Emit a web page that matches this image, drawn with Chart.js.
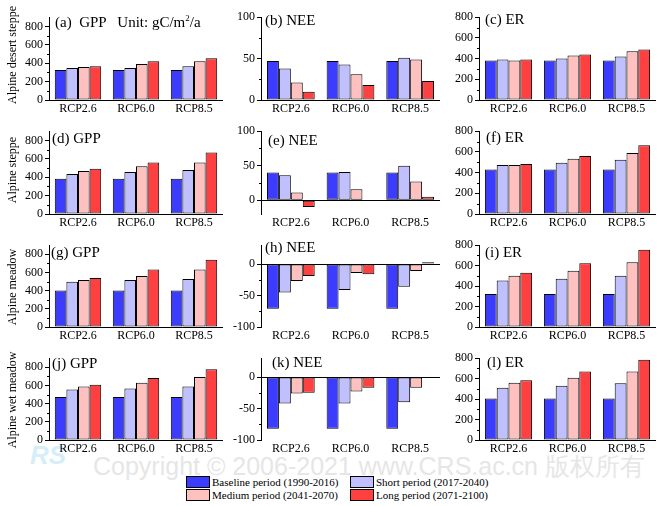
<!DOCTYPE html>
<html>
<head>
<meta charset="utf-8">
<script src="https://cdn.jsdelivr.net/npm/chart.js@4.4.0/dist/chart.umd.min.js"></script>
<style>
  body { margin: 0; background: #fff; width: 662px; height: 506px; overflow: hidden; position: relative; font-family: 'Liberation Serif', 'Times New Roman', serif; }
  canvas { position: absolute; }
  .txt { position: absolute; white-space: nowrap; color: #000; }
  .title { font-size: 15px; line-height: 15px; }
  .row-label { font-size: 12px; line-height: 12px; width: 140px; text-align: center; transform: rotate(-90deg); }
  .watermark { position: absolute; left: 93px; top: 453px; font-family: 'Liberation Sans', Arial, sans-serif; font-size: 25px; line-height: 26px; color: #e6e6e6; white-space: nowrap; }
  .logo { position: absolute; left: 30px; top: 440px; font-family: 'Liberation Sans', sans-serif; font-style: italic; font-weight: bold; font-size: 26px; color: #d6eef8; }
  .lg-box { position: absolute; width: 24px; height: 12px; border: 1px solid #000; box-sizing: border-box; }
  .lg-txt { position: absolute; font-size: 11px; line-height: 12px; white-space: nowrap; }
</style>
</head>
<body>
<div class="logo">RS</div>
<div class="watermark">Copyright © 2006-2021 www.CRS.ac.cn 版权所有</div>
<script>
// categories and periods
const scenarios = ['RCP2.6', 'RCP6.0', 'RCP8.5'];
const periods = ['Baseline period (1990-2016)', 'Short period (2017-2040)', 'Medium period (2041-2070)', 'Long period (2071-2100)'];
const periodColors = ['#3c3cff', '#c0c0ff', '#ffc0c0', '#ff4040'];
const ecosystems = ['Alpine desert steppe', 'Alpine steppe', 'Alpine meadow', 'Alpine wet meadow'];

// one row per period, one column per scenario (gC/m2/a)
const gppDesertSteppe = [[325, 325, 325], [348, 348, 366], [358, 390, 420], [368, 420, 455]];
const neeDesertSteppe = [[47, 47, 47], [38, 43, 51], [21, 31, 49], [10, 18, 23]];
const erDesertSteppe = [[382, 382, 382], [392, 401, 420], [382, 429, 470], [392, 439, 489]];

const gppSteppe = [[382, 382, 382], [435, 457, 478], [467, 520, 559], [492, 559, 669]];
const neeSteppe = [[40, 40, 40], [36, 41, 50], [11, 16, 27], [-10, 0, 5]];
const erSteppe = [[430, 430, 430], [473, 495, 524], [473, 533, 589], [483, 561, 665]];

const gppMeadow = [[401, 401, 401], [497, 518, 528], [518, 560, 634], [539, 634, 739]];
const neeMeadow = [[-71, -71, -71], [-45, -41, -36], [-27, -14, -11], [-19, -16, 3]];
const erMeadow = [[323, 323, 323], [455, 473, 502], [502, 549, 633], [530, 624, 755]];

const gppWetMeadow = [[472, 472, 472], [556, 567, 588], [588, 630, 694], [609, 683, 778]];
const neeWetMeadow = [[-82, -82, -82], [-42, -42, -40], [-26, -23, -17], [-25, -17, 0]];
const erWetMeadow = [[405, 405, 405], [510, 530, 555], [560, 610, 670], [585, 670, 785]];

// y tick labels
const fluxTicks = [0, 200, 400, 600, 800];
const neeTicksUp = [0, 50, 100];
const neeTicksDown = [-100, -50, 0];

Chart.defaults.font.family = "'Liberation Serif', 'Times New Roman', serif";
Chart.defaults.color = '#000';

const cols = [{ L: 49, R: 223 }, { L: 261, R: 440 }, { L: 479, R: 656 }];
const rows = [{ T: 14, B: 100, mid: 55 }, { T: 128, B: 214, mid: 170 }, { T: 242, B: 327, mid: 287 }, { T: 355, B: 440, mid: 400 }];

const panels = [
  { title: '(a)&nbsp; GPP &nbsp; Unit: gC/m<sup style="font-size:9px;vertical-align:6px;line-height:0">2</sup>/a', data: gppDesertSteppe, min: 0, max: 900, ticks: fluxTicks, r: 0, c: 0, tx: 55, ty: 15 },
  { title: '(b) NEE', data: neeDesertSteppe, min: 0, max: 100, ticks: neeTicksUp, r: 0, c: 1, tx: 265, ty: 13 },
  { title: '(c) ER', data: erDesertSteppe, min: 0, max: 800, ticks: fluxTicks, r: 0, c: 2, tx: 485, ty: 12 },
  { title: '(d) GPP', data: gppSteppe, min: 0, max: 900, ticks: fluxTicks, r: 1, c: 0, tx: 52, ty: 131 },
  { title: '(e) NEE', data: neeSteppe, min: -20, max: 100, ticks: neeTicksUp, r: 1, c: 1, tx: 268, ty: 133 },
  { title: '(f) ER', data: erSteppe, min: 0, max: 800, ticks: fluxTicks, r: 1, c: 2, tx: 486, ty: 130 },
  { title: '(g) GPP', data: gppMeadow, min: 0, max: 900, ticks: fluxTicks, r: 2, c: 0, tx: 51, ty: 245 },
  { title: '(h) NEE', data: neeMeadow, min: -100, max: 30, ticks: neeTicksDown, r: 2, c: 1, tx: 265, ty: 240 },
  { title: '(i) ER', data: erMeadow, min: 0, max: 800, ticks: fluxTicks, r: 2, c: 2, tx: 485, ty: 245 },
  { title: '(j) GPP', data: gppWetMeadow, min: 0, max: 900, ticks: fluxTicks, r: 3, c: 0, tx: 52, ty: 356 },
  { title: '(k) NEE', data: neeWetMeadow, min: -100, max: 30, ticks: neeTicksDown, r: 3, c: 1, tx: 272, ty: 355 },
  { title: '(l) ER', data: erWetMeadow, min: 0, max: 800, ticks: fluxTicks, r: 3, c: 2, tx: 487, ty: 355 }
];

// small unlabelled ticks halfway between the labelled ones
const minorTicks = {
  id: 'minorTicks',
  afterDraw(chart) {
    const y = chart.scales.y;
    const ctx = chart.ctx;
    const vals = y.ticks.map(t => t.value);
    ctx.save();
    ctx.strokeStyle = '#000';
    ctx.lineWidth = 1;
    for (let i = 0; i < vals.length - 1; i++) {
      const py = Math.round(y.getPixelForValue((vals[i] + vals[i + 1]) / 2)) + 0.5;
      ctx.beginPath();
      ctx.moveTo(y.right - 2, py);
      ctx.lineTo(y.right, py);
      ctx.stroke();
    }
    ctx.restore();
  }
};

function drawPanel(p) {
  const col = cols[p.c], row = rows[p.r];
  const padT = 6, padR = 6, yw = 40, xh = 20;
  const w = col.R - col.L + yw + padR;
  const h = row.B - row.T + padT + xh;
  const cv = document.createElement('canvas');
  cv.width = w; cv.height = h;
  cv.style.left = (col.L - yw) + 'px';
  cv.style.top = (row.T - padT) + 'px';
  document.body.appendChild(cv);

  new Chart(cv, {
    type: 'bar',
    data: {
      labels: scenarios,
      datasets: p.data.map((vals, i) => ({
        label: periods[i],
        data: vals,
        backgroundColor: periodColors[i],
        borderColor: '#000',
        borderWidth: 1,
        borderSkipped: false,
        categoryPercentage: 0.8,
        barPercentage: 1.0
      }))
    },
    options: {
      responsive: false,
      animation: false,
      events: [],
      layout: { padding: { top: padT, right: padR, left: 0, bottom: 0 } },
      plugins: { legend: { display: false }, tooltip: { enabled: false } },
      scales: {
        x: {
          grid: { display: false, drawTicks: false },
          border: { display: false },
          ticks: { font: { size: 12 }, color: '#000', padding: 2, maxRotation: 0 },
          afterFit(s) { s.height = xh; }
        },
        y: {
          min: p.min,
          max: p.max,
          afterBuildTicks(s) { s.ticks = p.ticks.map(v => ({ value: v })); },
          afterFit(s) { s.width = yw; },
          grid: {
            color: c => (c.tick && c.tick.value === 0) ? '#000' : 'rgba(0,0,0,0)',
            tickColor: '#000',
            tickLength: 4,
            lineWidth: 1
          },
          border: { display: true, color: '#000', width: 1 },
          ticks: { font: { size: 12 }, color: '#000', padding: 2 }
        }
      }
    },
    plugins: [minorTicks]
  });

  const t = document.createElement('div');
  t.className = 'txt title';
  t.style.left = p.tx + 'px';
  t.style.top = p.ty + 'px';
  t.innerHTML = p.title;
  document.body.appendChild(t);
}

panels.forEach(drawPanel);

// row labels on the left
ecosystems.forEach((name, i) => {
  const d = document.createElement('div');
  d.className = 'txt row-label';
  d.style.left = (12 - 70) + 'px';
  d.style.top = (rows[i].mid - 6) + 'px';
  d.textContent = name;
  document.body.appendChild(d);
});

// legend, two rows of two
const legendPos = [[186, 476], [350, 476], [186, 489], [350, 489]];
periods.forEach((name, i) => {
  const [x, y] = legendPos[i];
  const b = document.createElement('div');
  b.className = 'lg-box';
  b.style.left = x + 'px'; b.style.top = y + 'px';
  b.style.background = periodColors[i];
  document.body.appendChild(b);
  const s = document.createElement('div');
  s.className = 'lg-txt';
  s.style.left = (x + 26) + 'px'; s.style.top = y + 'px';
  s.textContent = name;
  document.body.appendChild(s);
});
</script>
</body>
</html>
